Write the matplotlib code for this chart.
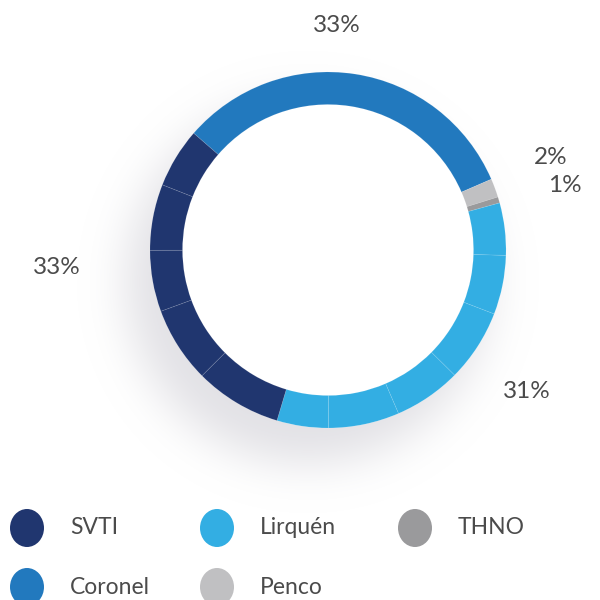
import numpy as np
import matplotlib.pyplot as plt
from matplotlib.patches import Circle, Ellipse

# share of each terminal (%), split in the sub-slices seen in the ring
coronel = [32.1]
penco = [1.7]
thno = [0.55]
lirquen = [4.75, 5.36, 6.56, 6.11, 6.44, 4.67]
svti = [7.89, 6.89, 5.56, 6.0, 5.42]

names = ['SVTI', 'Lirquén', 'THNO', 'Coronel', 'Penco']
colors = {'SVTI': '#20366f', 'Coronel': '#2279be', 'Lirquén': '#33aee3',
          'Penco': '#c0c0c2', 'THNO': '#9a9a9c'}
pct_labels = ['33%', '2%', '1%', '31%', '33%']

# ring order, clockwise from the Coronel start
ring = [('Coronel', coronel), ('Penco', penco), ('THNO', thno),
        ('Lirquén', lirquen), ('SVTI', svti)]
values = [v for _, grp in ring for v in grp]
wedge_colors = [colors[n] for n, grp in ring for _ in grp]

plt.rcParams['font.family'] = ['Lato', 'DejaVu Sans']

fig = plt.figure(figsize=(6, 6), dpi=100)
ax = fig.add_axes([0, 0, 1, 1])

cx, cy, r_out, r_in = 328, 350, 178, 145.5

# soft drop shadow towards the lower left (blurred, offset disc)
n = 600
yy, xx = np.mgrid[0:n, 0:n] + 0.5
disc = ((xx - (cx - 20)) ** 2 + (yy - (cy - 32)) ** 2 <= (r_out + 4) ** 2).astype(float)
idx = np.arange(n)
sigma = 22
kern = np.exp(-0.5 * ((idx[:, None] - idx[None, :]) / sigma) ** 2)
kern /= kern.sum(axis=1, keepdims=True)
shadow = kern @ disc @ kern.T
rgba = np.zeros((n, n, 4))
rgba[..., :3] = np.array([174, 172, 184]) / 255
rgba[..., 3] = 0.36 * shadow
ax.imshow(rgba, extent=(0, n, 0, n), origin='lower', zorder=1, interpolation='bilinear')
ax.add_patch(Circle((cx, cy), r_out, facecolor='white', edgecolor='none', zorder=1.5))

wedges, _ = ax.pie(values, colors=wedge_colors, startangle=139, counterclock=False,
                   center=(cx, cy), radius=r_out, frame=True,
                   wedgeprops=dict(width=r_out - r_in, edgecolor=(1, 1, 1, 0.1),
                                   linewidth=0.6))
for w in wedges:
    w.set_zorder(2)

ax.set_xlim(0, 600)
ax.set_ylim(0, 600)
ax.set_aspect('equal')
ax.axis('off')

txt_color = '#4b4b4b'
label_pos = [(337, 25), (551, 158), (565, 186), (527, 391), (57, 268)]
for lab, (x, y) in zip(pct_labels, label_pos):
    ax.text(x, 600 - y, lab, ha='center', va='center', fontsize=17.5,
            color=txt_color)

# legend
legend_pos = [(27, 528), (217, 528), (415, 528), (27, 587), (217, 587)]
for name, (x, y) in zip(names, legend_pos):
    ax.add_patch(Ellipse((x, 600 - y), 34, 38, facecolor=colors[name],
                         edgecolor='none', zorder=3))
    ax.text(x + 43, 600 - y, name, ha='left', va='center', fontsize=16.5,
            color=txt_color)

fig.savefig('out.png', dpi=100, facecolor='white')
